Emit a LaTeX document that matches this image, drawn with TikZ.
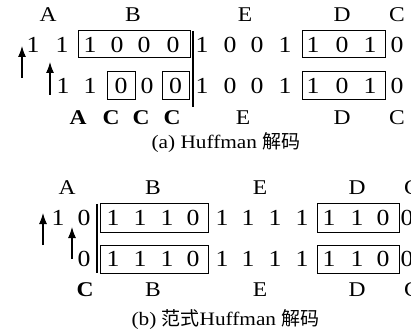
\documentclass[tikz,border=0pt]{standalone}
\usepackage{fontspec}
\setmainfont[FakeStretch=1.12]{Liberation Serif}
\newfontfamily\cjk{Noto Sans CJK SC}
\usetikzlibrary{arrows.meta}
\begin{document}
\begin{tikzpicture}[x=1pt,y=-1pt,
  dig/.style={inner sep=0pt,font=\fontsize{23}{23}\selectfont},
  lab/.style={inner sep=0pt,font=\fontsize{21}{21}\selectfont},
  blab/.style={inner sep=0pt,font=\fontsize{21}{21}\selectfont\bfseries},
  capt/.style={inner sep=0pt,font=\fontsize{19}{19}\selectfont},
  boxl/.style={draw=black,line width=1pt},
  sepl/.style={draw=black,line width=1.3pt},
  arr/.style={draw=black,line width=1.1pt,-{Latex[length=11pt,width=8pt]}}]
\useasboundingbox (0,0) rectangle (411,336);
\clip (0,0) rectangle (411,336);
% ---------- (a) ----------
\foreach \x/\t [count=\i] in {48/A,133/B,245/E,342/D,397/C}
  \node[lab] (at\i) at (\x,15) {\t};
\foreach \x/\d [count=\i] in {33/1,62/1,90/1,117/0,144/0,173/0,202/1,230/0,257/0,285/1,313/1,342/0,370/1,397/0}
  \node[dig] (ar\i) at (\x,44.5) {\d};
\foreach \x/\d [count=\i] in {63/1,90/1,121/0,147/0,175.5/0,202/1,230/0,257/0,285/1,313/1,342/0,370/1,397/0}
  \node[dig] (as\i) at (\x,85.5) {\d};
\node[blab] (ab1) at (78,118) {A};
\node[blab] (ab2) at (111,118) {C};
\node[blab] (ab3) at (141,118) {C};
\node[blab] (ab4) at (172,118) {C};
\node[lab] (ab5) at (243,118) {E};
\node[lab] (ab6) at (342,118) {D};
\node[lab] (ab7) at (397,118) {C};
\draw[boxl] (78,31) rectangle (190,58);
\draw[boxl] (302,31) rectangle (385,58);
\draw[boxl] (107,72) rectangle (135,99.5);
\draw[boxl] (162,72) rectangle (189,99.5);
\draw[boxl] (302,72) rectangle (385,99.5);
\draw[sepl] (193,31) -- (193,107);
\coordinate (aa1s) at (22,78);
\coordinate (aa1e) at (22,46);
\coordinate (aa2s) at (50,95);
\coordinate (aa2e) at (50,62);
\draw[arr] (aa1s) -- (aa1e);
\draw[arr] (aa2s) -- (aa2e);
\node[capt] (capa) at (226,143) {(a) Huffman {\cjk 解码}};
% ---------- (b) ----------
\foreach \x/\t [count=\i] in {67/A,153/B,260/E,357/D,412/C}
  \node[lab] (bt\i) at (\x,188) {\t};
\foreach \x/\d [count=\i] in {58/1,84/0,113/1,140/1,167/1,193/0,222/1,248/1,275/1,302/1,329/1,357/1,383/0,407/0}
  \node[dig] (br\i) at (\x,218) {\d};
\foreach \x/\d [count=\i] in {84/0,113/1,140/1,167/1,193/0,222/1,248/1,275/1,302/1,329/1,357/1,383/0,407/0}
  \node[dig] (bs\i) at (\x,259) {\d};
\node[blab] (bb1) at (85,290) {C};
\node[lab] (bb2) at (153,290) {B};
\node[lab] (bb3) at (260,290) {E};
\node[lab] (bb4) at (357,290) {D};
\node[lab] (bb5) at (412,290) {C};
\draw[boxl] (100,204) rectangle (208,232);
\draw[boxl] (100,245) rectangle (208,273);
\draw[boxl] (317,204) rectangle (399,232);
\draw[boxl] (317,245) rectangle (399,273);
\draw[sepl] (97,204) -- (97,273);
\coordinate (ba1s) at (43,245);
\coordinate (ba1e) at (43,213);
\coordinate (ba2s) at (72,259);
\coordinate (ba2e) at (72,227);
\draw[arr] (ba1s) -- (ba1e);
\draw[arr] (ba2s) -- (ba2e);
\node[capt] (capb) at (225.5,320) {(b) {\cjk 范式}Huffman {\cjk 解码}};
\end{tikzpicture}
\end{document}
